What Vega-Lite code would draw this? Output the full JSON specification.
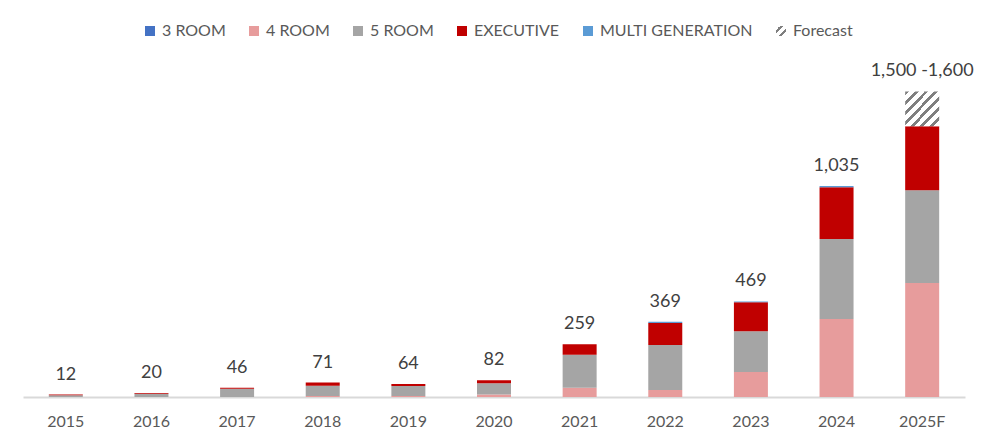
{
  "$schema": "https://vega.github.io/schema/vega-lite/v6.json",
  "width": 942,
  "height": 326,
  "autosize": {"type": "none"},
  "padding": {"left": 23, "top": 71, "right": 23, "bottom": 49},
  "config": {
    "view": {"stroke": null},
    "font": "Lato"
  },
  "datasets": {
    "units": [
      {"year": "2015", "type": "5 ROOM", "value": 8},
      {"year": "2015", "type": "EXECUTIVE", "value": 4},
      {"year": "2016", "type": "5 ROOM", "value": 16},
      {"year": "2016", "type": "EXECUTIVE", "value": 4},
      {"year": "2017", "type": "5 ROOM", "value": 41},
      {"year": "2017", "type": "EXECUTIVE", "value": 5},
      {"year": "2018", "type": "4 ROOM", "value": 5},
      {"year": "2018", "type": "5 ROOM", "value": 50},
      {"year": "2018", "type": "EXECUTIVE", "value": 16},
      {"year": "2019", "type": "4 ROOM", "value": 5},
      {"year": "2019", "type": "5 ROOM", "value": 49},
      {"year": "2019", "type": "EXECUTIVE", "value": 10},
      {"year": "2020", "type": "4 ROOM", "value": 12},
      {"year": "2020", "type": "5 ROOM", "value": 55},
      {"year": "2020", "type": "EXECUTIVE", "value": 15},
      {"year": "2021", "type": "4 ROOM", "value": 46},
      {"year": "2021", "type": "5 ROOM", "value": 161},
      {"year": "2021", "type": "EXECUTIVE", "value": 52},
      {"year": "2022", "type": "4 ROOM", "value": 34},
      {"year": "2022", "type": "5 ROOM", "value": 221},
      {"year": "2022", "type": "EXECUTIVE", "value": 108},
      {"year": "2022", "type": "MULTI GENERATION", "value": 6},
      {"year": "2023", "type": "4 ROOM", "value": 123},
      {"year": "2023", "type": "5 ROOM", "value": 200},
      {"year": "2023", "type": "EXECUTIVE", "value": 142},
      {"year": "2023", "type": "MULTI GENERATION", "value": 4},
      {"year": "2024", "type": "4 ROOM", "value": 383},
      {"year": "2024", "type": "5 ROOM", "value": 392},
      {"year": "2024", "type": "EXECUTIVE", "value": 255},
      {"year": "2024", "type": "MULTI GENERATION", "value": 5},
      {"year": "2025F", "type": "4 ROOM", "value": 559},
      {"year": "2025F", "type": "5 ROOM", "value": 456},
      {"year": "2025F", "type": "EXECUTIVE", "value": 314},
      {"year": "2025F", "type": "Forecast", "value": 171}
    ],
    "totals": [
      {"year": "2015", "total": 12, "label": "12"},
      {"year": "2016", "total": 20, "label": "20"},
      {"year": "2017", "total": 46, "label": "46"},
      {"year": "2018", "total": 71, "label": "71"},
      {"year": "2019", "total": 64, "label": "64"},
      {"year": "2020", "total": 82, "label": "82"},
      {"year": "2021", "total": 259, "label": "259"},
      {"year": "2022", "total": 369, "label": "369"},
      {"year": "2023", "total": 469, "label": "469"},
      {"year": "2024", "total": 1035, "label": "1,035"},
      {"year": "2025F", "total": 1500, "label": "1,500 -1,600"}
    ]
  },
  "encoding": {
    "x": {
      "field": "year",
      "type": "nominal",
      "sort": null,
      "scale": {"paddingInner": 0.603, "paddingOuter": 0.3015},
      "axis": {
        "title": null,
        "labelAngle": 0,
        "ticks": false,
        "domainColor": "#D9D9D9",
        "domainWidth": 2,
        "labelFontSize": 16,
        "labelColor": "#595959",
        "labelPadding": 16,
        "labelFont": "Lato"
      }
    }
  },
  "layer": [
    {
      "data": {"name": "units"},
      "mark": {"type": "bar", "strokeWidth": 0},
      "encoding": {
        "y": {
          "field": "value",
          "type": "quantitative",
          "stack": "zero",
          "scale": {"domain": [0, 1600], "nice": false},
          "axis": null
        },
        "order": {"field": "type", "sort": "ascending"},
        "color": {
          "condition": {
            "test": "datum.type === 'Forecast'",
            "value": {
              "gradient": "linear",
              "x1": 0, "y1": 0, "x2": 1, "y2": 1,
              "stops": [
                {"offset": 0, "color": "#7F7F7F"},
                {"offset": 0.0571, "color": "#7F7F7F"},
                {"offset": 0.0571, "color": "#FFFFFF"},
                {"offset": 0.1429, "color": "#FFFFFF"},
                {"offset": 0.1429, "color": "#7F7F7F"},
                {"offset": 0.2, "color": "#7F7F7F"},
                {"offset": 0.2, "color": "#FFFFFF"},
                {"offset": 0.2857, "color": "#FFFFFF"},
                {"offset": 0.2857, "color": "#7F7F7F"},
                {"offset": 0.3429, "color": "#7F7F7F"},
                {"offset": 0.3429, "color": "#FFFFFF"},
                {"offset": 0.4286, "color": "#FFFFFF"},
                {"offset": 0.4286, "color": "#7F7F7F"},
                {"offset": 0.4857, "color": "#7F7F7F"},
                {"offset": 0.4857, "color": "#FFFFFF"},
                {"offset": 0.5714, "color": "#FFFFFF"},
                {"offset": 0.5714, "color": "#7F7F7F"},
                {"offset": 0.6286, "color": "#7F7F7F"},
                {"offset": 0.6286, "color": "#FFFFFF"},
                {"offset": 0.7143, "color": "#FFFFFF"},
                {"offset": 0.7143, "color": "#7F7F7F"},
                {"offset": 0.7714, "color": "#7F7F7F"},
                {"offset": 0.7714, "color": "#FFFFFF"},
                {"offset": 0.8571, "color": "#FFFFFF"},
                {"offset": 0.8571, "color": "#7F7F7F"},
                {"offset": 0.9143, "color": "#7F7F7F"},
                {"offset": 0.9143, "color": "#FFFFFF"},
                {"offset": 1, "color": "#FFFFFF"}
              ]
            }
          },
          "field": "type",
          "type": "nominal",
          "scale": {
            "domain": ["3 ROOM", "4 ROOM", "5 ROOM", "EXECUTIVE", "MULTI GENERATION", "Forecast"],
            "range": ["#4472C4", "#E79C9C", "#A5A5A5", "#C00000", "#5B9BD5",
              {"expr": "{gradient: 'linear', x1: 0, y1: 0, x2: 1, y2: 1, stops: [{offset: 0, color: '#FFFFFF'}, {offset: 0.2, color: '#FFFFFF'}, {offset: 0.2, color: '#7F7F7F'}, {offset: 0.36, color: '#7F7F7F'}, {offset: 0.36, color: '#FFFFFF'}, {offset: 0.6, color: '#FFFFFF'}, {offset: 0.6, color: '#7F7F7F'}, {offset: 0.76, color: '#7F7F7F'}, {offset: 0.76, color: '#FFFFFF'}, {offset: 1, color: '#FFFFFF'}]}"}
            ]
          },
          "legend": {
            "title": null,
            "orient": "none",
            "direction": "horizontal",
            "legendX": 119,
            "legendY": -48,
            "symbolType": "square",
            "symbolSize": 100,
            "symbolStrokeWidth": 0,
            "symbolOpacity": 1,
            "labelFontSize": 16,
            "labelColor": "#595959",
            "labelFont": "Lato",
            "labelOffset": 4,
            "columnPadding": 20
          }
        }
      }
    },
    {
      "data": {"name": "totals"},
      "mark": {
        "type": "text",
        "baseline": "alphabetic",
        "align": "center",
        "dy": -15,
        "fontSize": 18,
        "font": "Lato",
        "color": "#404040"
      },
      "encoding": {
        "y": {"field": "total", "type": "quantitative"},
        "text": {"field": "label", "type": "nominal"}
      }
    }
  ]
}
